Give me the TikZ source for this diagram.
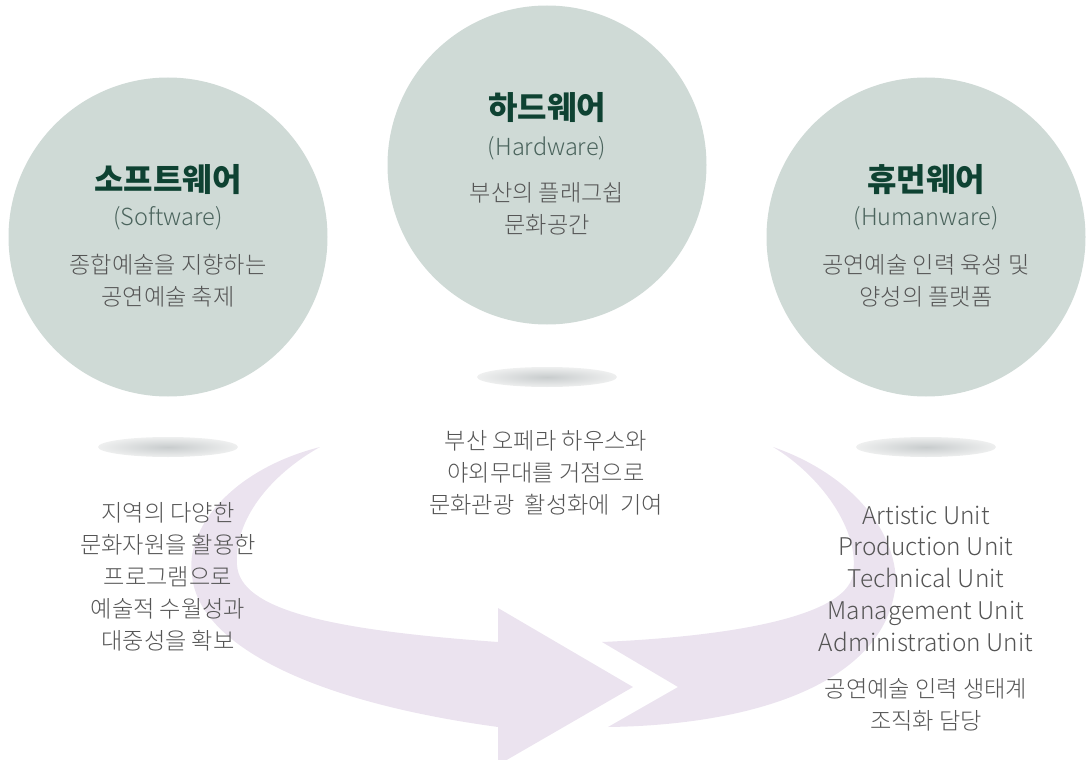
\documentclass[tikz,border=0pt]{standalone}
\usepackage{fontspec}
\setmainfont{Noto Sans CJK KR}
\newfontfamily\krlight{Noto Sans CJK KR Light}
\definecolor{circ}{RGB}{207,218,214}
\definecolor{arrowc}{RGB}{235,227,239}
\definecolor{titlec}{RGB}{14,66,50}
\definecolor{subc}{RGB}{75,100,93}
\definecolor{bodyc}{RGB}{85,85,85}
\definecolor{shin}{RGB}{200,204,205}
\definecolor{shout}{RGB}{238,239,239}
\begin{document}
\begin{tikzpicture}[x=1pt,y=-1pt,
  bubble/.style={circle,fill=circ,draw=none,minimum size=319pt,inner sep=0pt},
  title/.style={text=titlec,font=\bfseries\fontsize{32}{36}\selectfont,inner sep=0pt},
  sub/.style={text=subc,font=\krlight\fontsize{23.5}{26}\selectfont,inner sep=0pt},
  body/.style={text=bodyc,font=\krlight\fontsize{23.2}{32}\selectfont,align=center,inner sep=0pt},
  shadowel/.style={inner color=shin,outer color=shout}
]
\useasboundingbox (0,0) rectangle (1088,760);

% arrows
\fill[arrowc] (320,447) .. controls (230,470) and (185,530) .. (192,575)
  .. controls (197,640) and (300,700) .. (498,727) -- (498,765) -- (633,687)
  -- (498,608) -- (498,642) .. controls (330,630) and (240,610) .. (237,565)
  .. controls (234,520) and (270,475) .. cycle;
\fill[arrowc] (773,447) .. controls (840,470) and (893,520) .. (896,580)
  .. controls (890,680) and (760,725) .. (608,727) -- (678,687) -- (602,642)
  .. controls (760,635) and (850,610) .. (853,573)
  .. controls (860,530) and (820,475) .. cycle;

% shadows
\shade[shadowel] (168,447) ellipse [x radius=70, y radius=10];
\shade[shadowel] (547,377) ellipse [x radius=70, y radius=10];
\shade[shadowel] (926,447) ellipse [x radius=70, y radius=10];

% circles
\node[bubble] (soft) at (168,237) {};
\node[bubble] (hard) at (547,165) {};
\node[bubble] (human) at (926,237) {};

% circle texts
\node[title] (softT) at (168,180) {소프트웨어};
\node[sub] (softS) at (168,218) {(Software)};
\node[body] (softB) at (168,281) {종합예술을 지향하는\\공연예술 축제};

\node[title] (hardT) at (547,108) {하드웨어};
\node[sub] (hardS) at (547,148) {(Hardware)};
\node[body] (hardB) at (547,209) {부산의 플래그쉽\\문화공간};

\node[title] (humanT) at (926,180) {휴먼웨어};
\node[sub] (humanS) at (926,218) {(Humanware)};
\node[body] (humanB) at (926,281) {공연예술 인력 육성 및\\양성의 플랫폼};

% lower texts
\node[body] (softL) at (168,577) {지역의 다양한\\문화자원을 활용한\\프로그램으로\\예술적 수월성과\\대중성을 확보};
\node[body] (hardL) at (546,473) {부산 오페라 하우스와\\야외무대를 거점으로\\문화관광~ 활성화에~ 기여};
\node[body,font=\krlight\fontsize{24.4}{31.75}\selectfont] (humanL) at (926,578.5) {Artistic Unit\\Production Unit\\Technical Unit\\Management Unit\\Administration Unit};
\node[body] (humanK) at (926,704.5) {공연예술 인력 생태계\\조직화 담당};
\end{tikzpicture}
\end{document}
